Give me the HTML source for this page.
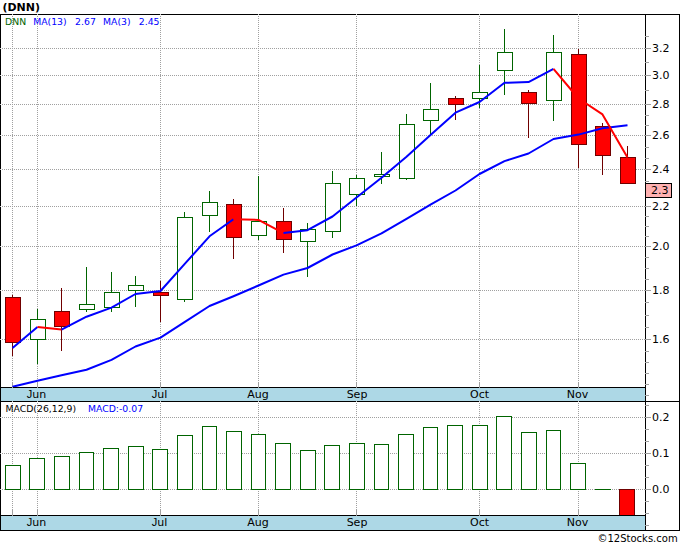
<!DOCTYPE html><html><head><meta charset="utf-8"><title>DNN</title><style>html,body{margin:0;padding:0;background:#fff;}svg{display:block;}text{font-family:"DejaVu Sans","Liberation Sans",sans-serif;}</style></head><body>
<svg width="680" height="546" viewBox="0 0 680 546">
<rect x="0" y="0" width="680" height="546" fill="#fff"/>
<rect x="1" y="388" width="644" height="13" fill="#add8e6"/>
<rect x="1" y="516" width="644" height="14" fill="#add8e6"/>
<g shape-rendering="crispEdges">
<line x1="0" y1="48.5" x2="645" y2="48.5" stroke="#a0a0a0" stroke-dasharray="1 1"/>
<line x1="0" y1="75.5" x2="645" y2="75.5" stroke="#a0a0a0" stroke-dasharray="1 1"/>
<line x1="0" y1="104.5" x2="645" y2="104.5" stroke="#a0a0a0" stroke-dasharray="1 1"/>
<line x1="0" y1="135.5" x2="645" y2="135.5" stroke="#a0a0a0" stroke-dasharray="1 1"/>
<line x1="0" y1="169.5" x2="645" y2="169.5" stroke="#a0a0a0" stroke-dasharray="1 1"/>
<line x1="0" y1="206.5" x2="645" y2="206.5" stroke="#a0a0a0" stroke-dasharray="1 1"/>
<line x1="0" y1="246.5" x2="645" y2="246.5" stroke="#a0a0a0" stroke-dasharray="1 1"/>
<line x1="0" y1="290.5" x2="645" y2="290.5" stroke="#a0a0a0" stroke-dasharray="1 1"/>
<line x1="0" y1="339.5" x2="645" y2="339.5" stroke="#a0a0a0" stroke-dasharray="1 1"/>
<line x1="0" y1="417.5" x2="645" y2="417.5" stroke="#a0a0a0" stroke-dasharray="1 1"/>
<line x1="0" y1="453.5" x2="645" y2="453.5" stroke="#a0a0a0" stroke-dasharray="1 1"/>
<line x1="0" y1="489.5" x2="645" y2="489.5" stroke="#a0a0a0" stroke-dasharray="1 1"/>
<line x1="12.5" y1="14" x2="12.5" y2="382" stroke="#a0a0a0" stroke-dasharray="1 1"/>
<line x1="12.5" y1="382" x2="12.5" y2="388" stroke="#a0a0a0"/>
<line x1="12.5" y1="401" x2="12.5" y2="510" stroke="#a0a0a0" stroke-dasharray="1 1"/>
<line x1="12.5" y1="510" x2="12.5" y2="516" stroke="#a0a0a0"/>
<line x1="37.5" y1="14" x2="37.5" y2="382" stroke="#a0a0a0" stroke-dasharray="1 1"/>
<line x1="37.5" y1="382" x2="37.5" y2="388" stroke="#a0a0a0"/>
<line x1="37.5" y1="401" x2="37.5" y2="510" stroke="#a0a0a0" stroke-dasharray="1 1"/>
<line x1="37.5" y1="510" x2="37.5" y2="516" stroke="#a0a0a0"/>
<line x1="160.5" y1="14" x2="160.5" y2="382" stroke="#a0a0a0" stroke-dasharray="1 1"/>
<line x1="160.5" y1="382" x2="160.5" y2="388" stroke="#a0a0a0"/>
<line x1="160.5" y1="401" x2="160.5" y2="510" stroke="#a0a0a0" stroke-dasharray="1 1"/>
<line x1="160.5" y1="510" x2="160.5" y2="516" stroke="#a0a0a0"/>
<line x1="258.5" y1="14" x2="258.5" y2="382" stroke="#a0a0a0" stroke-dasharray="1 1"/>
<line x1="258.5" y1="382" x2="258.5" y2="388" stroke="#a0a0a0"/>
<line x1="258.5" y1="401" x2="258.5" y2="510" stroke="#a0a0a0" stroke-dasharray="1 1"/>
<line x1="258.5" y1="510" x2="258.5" y2="516" stroke="#a0a0a0"/>
<line x1="356.5" y1="14" x2="356.5" y2="382" stroke="#a0a0a0" stroke-dasharray="1 1"/>
<line x1="356.5" y1="382" x2="356.5" y2="388" stroke="#a0a0a0"/>
<line x1="356.5" y1="401" x2="356.5" y2="510" stroke="#a0a0a0" stroke-dasharray="1 1"/>
<line x1="356.5" y1="510" x2="356.5" y2="516" stroke="#a0a0a0"/>
<line x1="479.5" y1="14" x2="479.5" y2="382" stroke="#a0a0a0" stroke-dasharray="1 1"/>
<line x1="479.5" y1="382" x2="479.5" y2="388" stroke="#a0a0a0"/>
<line x1="479.5" y1="401" x2="479.5" y2="510" stroke="#a0a0a0" stroke-dasharray="1 1"/>
<line x1="479.5" y1="510" x2="479.5" y2="516" stroke="#a0a0a0"/>
<line x1="578.5" y1="14" x2="578.5" y2="382" stroke="#a0a0a0" stroke-dasharray="1 1"/>
<line x1="578.5" y1="382" x2="578.5" y2="388" stroke="#a0a0a0"/>
<line x1="578.5" y1="401" x2="578.5" y2="510" stroke="#a0a0a0" stroke-dasharray="1 1"/>
<line x1="578.5" y1="510" x2="578.5" y2="516" stroke="#a0a0a0"/>
</g>
<g shape-rendering="crispEdges">
<line x1="12.5" y1="295" x2="12.5" y2="297" stroke="#700000"/>
<line x1="12.5" y1="342" x2="12.5" y2="356" stroke="#700000"/>
<rect x="5.5" y="297.5" width="15" height="45" fill="#ff0000" stroke="#700000"/>
<line x1="37.5" y1="309" x2="37.5" y2="319" stroke="#006400"/>
<line x1="37.5" y1="339" x2="37.5" y2="364" stroke="#006400"/>
<rect x="30.5" y="319.5" width="15" height="20" fill="#fff" stroke="#006400"/>
<line x1="61.5" y1="288" x2="61.5" y2="311" stroke="#700000"/>
<line x1="61.5" y1="326" x2="61.5" y2="351" stroke="#700000"/>
<rect x="54.5" y="311.5" width="15" height="15" fill="#ff0000" stroke="#700000"/>
<line x1="86.5" y1="267" x2="86.5" y2="304" stroke="#006400"/>
<line x1="86.5" y1="309" x2="86.5" y2="312" stroke="#006400"/>
<rect x="79.5" y="304.5" width="15" height="5" fill="#fff" stroke="#006400"/>
<line x1="111.5" y1="272" x2="111.5" y2="292" stroke="#006400"/>
<line x1="111.5" y1="307" x2="111.5" y2="312" stroke="#006400"/>
<rect x="104.5" y="292.5" width="15" height="15" fill="#fff" stroke="#006400"/>
<line x1="135.5" y1="276" x2="135.5" y2="285" stroke="#006400"/>
<line x1="135.5" y1="290" x2="135.5" y2="307" stroke="#006400"/>
<rect x="128.5" y="285.5" width="15" height="5" fill="#fff" stroke="#006400"/>
<line x1="160.5" y1="281" x2="160.5" y2="292" stroke="#700000"/>
<line x1="160.5" y1="295" x2="160.5" y2="322" stroke="#700000"/>
<rect x="153.5" y="292.5" width="15" height="3" fill="#ff0000" stroke="#700000"/>
<line x1="184.5" y1="212" x2="184.5" y2="217" stroke="#006400"/>
<line x1="184.5" y1="299" x2="184.5" y2="302" stroke="#006400"/>
<rect x="177.5" y="217.5" width="15" height="82" fill="#fff" stroke="#006400"/>
<line x1="209.5" y1="191" x2="209.5" y2="202" stroke="#006400"/>
<line x1="209.5" y1="215" x2="209.5" y2="232" stroke="#006400"/>
<rect x="202.5" y="202.5" width="15" height="13" fill="#fff" stroke="#006400"/>
<line x1="233.5" y1="199" x2="233.5" y2="204" stroke="#700000"/>
<line x1="233.5" y1="237" x2="233.5" y2="259" stroke="#700000"/>
<rect x="226.5" y="204.5" width="15" height="33" fill="#ff0000" stroke="#700000"/>
<line x1="258.5" y1="176" x2="258.5" y2="221" stroke="#006400"/>
<line x1="258.5" y1="235" x2="258.5" y2="240" stroke="#006400"/>
<rect x="251.5" y="221.5" width="15" height="14" fill="#fff" stroke="#006400"/>
<line x1="283.5" y1="208" x2="283.5" y2="221" stroke="#700000"/>
<line x1="283.5" y1="239" x2="283.5" y2="253" stroke="#700000"/>
<rect x="276.5" y="221.5" width="15" height="18" fill="#ff0000" stroke="#700000"/>
<line x1="307.5" y1="223" x2="307.5" y2="229" stroke="#006400"/>
<line x1="307.5" y1="241" x2="307.5" y2="277" stroke="#006400"/>
<rect x="300.5" y="229.5" width="15" height="12" fill="#fff" stroke="#006400"/>
<line x1="332.5" y1="171" x2="332.5" y2="183" stroke="#006400"/>
<line x1="332.5" y1="231" x2="332.5" y2="238" stroke="#006400"/>
<rect x="325.5" y="183.5" width="15" height="48" fill="#fff" stroke="#006400"/>
<line x1="356.5" y1="175" x2="356.5" y2="178" stroke="#006400"/>
<line x1="356.5" y1="194" x2="356.5" y2="206" stroke="#006400"/>
<rect x="349.5" y="178.5" width="15" height="16" fill="#fff" stroke="#006400"/>
<line x1="381.5" y1="152" x2="381.5" y2="174" stroke="#006400"/>
<line x1="381.5" y1="176" x2="381.5" y2="184" stroke="#006400"/>
<rect x="374.5" y="174.5" width="15" height="2" fill="#fff" stroke="#006400"/>
<line x1="406.5" y1="114" x2="406.5" y2="124" stroke="#006400"/>
<line x1="406.5" y1="178" x2="406.5" y2="180" stroke="#006400"/>
<rect x="399.5" y="124.5" width="15" height="54" fill="#fff" stroke="#006400"/>
<line x1="430.5" y1="83" x2="430.5" y2="109" stroke="#006400"/>
<line x1="430.5" y1="120" x2="430.5" y2="134" stroke="#006400"/>
<rect x="423.5" y="109.5" width="15" height="11" fill="#fff" stroke="#006400"/>
<line x1="455.5" y1="96" x2="455.5" y2="98" stroke="#700000"/>
<line x1="455.5" y1="104" x2="455.5" y2="120" stroke="#700000"/>
<rect x="448.5" y="98.5" width="15" height="6" fill="#ff0000" stroke="#700000"/>
<line x1="479.5" y1="65" x2="479.5" y2="92" stroke="#006400"/>
<line x1="479.5" y1="98" x2="479.5" y2="108" stroke="#006400"/>
<rect x="472.5" y="92.5" width="15" height="6" fill="#fff" stroke="#006400"/>
<line x1="504.5" y1="29" x2="504.5" y2="52" stroke="#006400"/>
<line x1="504.5" y1="70" x2="504.5" y2="95" stroke="#006400"/>
<rect x="497.5" y="52.5" width="15" height="18" fill="#fff" stroke="#006400"/>
<line x1="528.5" y1="90" x2="528.5" y2="92" stroke="#700000"/>
<line x1="528.5" y1="103" x2="528.5" y2="138" stroke="#700000"/>
<rect x="521.5" y="92.5" width="15" height="11" fill="#ff0000" stroke="#700000"/>
<line x1="553.5" y1="35" x2="553.5" y2="52" stroke="#006400"/>
<line x1="553.5" y1="100" x2="553.5" y2="121" stroke="#006400"/>
<rect x="546.5" y="52.5" width="15" height="48" fill="#fff" stroke="#006400"/>
<line x1="578.5" y1="49" x2="578.5" y2="54" stroke="#700000"/>
<line x1="578.5" y1="144" x2="578.5" y2="168" stroke="#700000"/>
<rect x="571.5" y="54.5" width="15" height="90" fill="#ff0000" stroke="#700000"/>
<line x1="602.5" y1="123" x2="602.5" y2="126" stroke="#700000"/>
<line x1="602.5" y1="155" x2="602.5" y2="175" stroke="#700000"/>
<rect x="595.5" y="126.5" width="15" height="29" fill="#ff0000" stroke="#700000"/>
<line x1="627.5" y1="146" x2="627.5" y2="157" stroke="#700000"/>
<rect x="620.5" y="157.5" width="15" height="26" fill="#ff0000" stroke="#700000"/>
<rect x="5.5" y="465.5" width="15" height="24" fill="#fff" stroke="#006400"/>
<rect x="29.5" y="458.5" width="15" height="31" fill="#fff" stroke="#006400"/>
<rect x="54.5" y="456.5" width="15" height="33" fill="#fff" stroke="#006400"/>
<rect x="79.5" y="452.5" width="14" height="37" fill="#fff" stroke="#006400"/>
<rect x="103.5" y="448.5" width="15" height="41" fill="#fff" stroke="#006400"/>
<rect x="128.5" y="446.5" width="15" height="43" fill="#fff" stroke="#006400"/>
<rect x="152.5" y="449.5" width="15" height="40" fill="#fff" stroke="#006400"/>
<rect x="177.5" y="435.5" width="15" height="54" fill="#fff" stroke="#006400"/>
<rect x="202.5" y="426.5" width="14" height="63" fill="#fff" stroke="#006400"/>
<rect x="226.5" y="431.5" width="15" height="58" fill="#fff" stroke="#006400"/>
<rect x="251.5" y="434.5" width="14" height="55" fill="#fff" stroke="#006400"/>
<rect x="275.5" y="443.5" width="15" height="46" fill="#fff" stroke="#006400"/>
<rect x="300.5" y="450.5" width="15" height="39" fill="#fff" stroke="#006400"/>
<rect x="324.5" y="445.5" width="15" height="44" fill="#fff" stroke="#006400"/>
<rect x="349.5" y="443.5" width="15" height="46" fill="#fff" stroke="#006400"/>
<rect x="374.5" y="444.5" width="14" height="45" fill="#fff" stroke="#006400"/>
<rect x="398.5" y="434.5" width="15" height="55" fill="#fff" stroke="#006400"/>
<rect x="423.5" y="427.5" width="14" height="62" fill="#fff" stroke="#006400"/>
<rect x="447.5" y="425.5" width="15" height="64" fill="#fff" stroke="#006400"/>
<rect x="472.5" y="425.5" width="15" height="64" fill="#fff" stroke="#006400"/>
<rect x="496.5" y="416.5" width="15" height="73" fill="#fff" stroke="#006400"/>
<rect x="521.5" y="432.5" width="15" height="57" fill="#fff" stroke="#006400"/>
<rect x="546.5" y="430.5" width="14" height="59" fill="#fff" stroke="#006400"/>
<rect x="570.5" y="463.5" width="15" height="26" fill="#fff" stroke="#006400"/>
<line x1="595" y1="489.5" x2="611" y2="489.5" stroke="#006400"/>
<rect x="619.5" y="489.5" width="15" height="26" fill="#ff0000" stroke="#700000"/>
</g>
<polyline points="12.5,386.8 37.5,380.7 61.5,375.2 86.5,369.7 111.5,359.9 135.5,346.5 160.5,337.6 184.5,322.2 209.5,306 233.5,296.2 258.5,285.5 283.5,274.6 307.5,268 332.5,254.5 356.5,245.4 381.5,233.4 406.5,218.8 430.5,204.7 455.5,190.5 479.5,174 504.5,161.1 528.5,153.5 553.5,139 578.5,134.6 602.5,128.2 627.5,125.3" fill="none" stroke="#0000ff" stroke-width="2.0" stroke-linejoin="round"/>
<polyline points="12.5,348 37.5,327" fill="none" stroke="#0000ff" stroke-width="2.0" stroke-linejoin="round"/>
<polyline points="37.5,327 61.5,329.6" fill="none" stroke="#ff0000" stroke-width="2.0" stroke-linejoin="round"/>
<polyline points="61.5,329.6 86.5,316.7 111.5,307.6 135.5,294 160.5,291 184.5,264.2 209.5,236.3 233.5,219.2" fill="none" stroke="#0000ff" stroke-width="2.0" stroke-linejoin="round"/>
<polyline points="233.5,219.2 258.5,219.9 283.5,233.1" fill="none" stroke="#ff0000" stroke-width="2.0" stroke-linejoin="round"/>
<polyline points="283.5,233.1 307.5,230.2 332.5,216.5 356.5,197.5 381.5,177.7 406.5,156.8 430.5,135.1 455.5,112.7 479.5,102 504.5,82.8 528.5,82.1 553.5,68.9" fill="none" stroke="#0000ff" stroke-width="2.0" stroke-linejoin="round"/>
<polyline points="553.5,68.9 578.5,98.5 602.5,114.4 627.5,157.5" fill="none" stroke="#ff0000" stroke-width="2.0" stroke-linejoin="round"/>
<g shape-rendering="crispEdges" stroke="#000" fill="none">
<rect x="0.5" y="14.5" width="679" height="516"/>
<line x1="645.5" y1="14" x2="645.5" y2="531"/>
<line x1="0" y1="387.5" x2="646" y2="387.5"/>
<line x1="0" y1="401.5" x2="680" y2="401.5"/>
<line x1="0" y1="515.5" x2="646" y2="515.5"/>
</g>
<g fill="#c8c8c8" shape-rendering="crispEdges">
<rect x="0" y="48" width="1" height="1"/>
<rect x="0" y="75" width="1" height="1"/>
<rect x="0" y="104" width="1" height="1"/>
<rect x="0" y="135" width="1" height="1"/>
<rect x="0" y="169" width="1" height="1"/>
<rect x="0" y="206" width="1" height="1"/>
<rect x="0" y="246" width="1" height="1"/>
<rect x="0" y="290" width="1" height="1"/>
<rect x="0" y="339" width="1" height="1"/>
<rect x="0" y="417" width="1" height="1"/>
<rect x="0" y="453" width="1" height="1"/>
<rect x="0" y="489" width="1" height="1"/>
<rect x="12" y="14" width="1" height="1"/>
<rect x="12" y="387" width="1" height="1" fill="#a0a0a0"/>
<rect x="12" y="401" width="1" height="1"/>
<rect x="12" y="515" width="1" height="1" fill="#a0a0a0"/>
<rect x="37" y="14" width="1" height="1"/>
<rect x="37" y="387" width="1" height="1" fill="#a0a0a0"/>
<rect x="37" y="401" width="1" height="1"/>
<rect x="37" y="515" width="1" height="1" fill="#a0a0a0"/>
<rect x="160" y="14" width="1" height="1"/>
<rect x="160" y="387" width="1" height="1" fill="#a0a0a0"/>
<rect x="160" y="401" width="1" height="1"/>
<rect x="160" y="515" width="1" height="1" fill="#a0a0a0"/>
<rect x="258" y="14" width="1" height="1"/>
<rect x="258" y="387" width="1" height="1" fill="#a0a0a0"/>
<rect x="258" y="401" width="1" height="1"/>
<rect x="258" y="515" width="1" height="1" fill="#a0a0a0"/>
<rect x="356" y="14" width="1" height="1"/>
<rect x="356" y="387" width="1" height="1" fill="#a0a0a0"/>
<rect x="356" y="401" width="1" height="1"/>
<rect x="356" y="515" width="1" height="1" fill="#a0a0a0"/>
<rect x="479" y="14" width="1" height="1"/>
<rect x="479" y="387" width="1" height="1" fill="#a0a0a0"/>
<rect x="479" y="401" width="1" height="1"/>
<rect x="479" y="515" width="1" height="1" fill="#a0a0a0"/>
<rect x="578" y="14" width="1" height="1"/>
<rect x="578" y="387" width="1" height="1" fill="#a0a0a0"/>
<rect x="578" y="401" width="1" height="1"/>
<rect x="578" y="515" width="1" height="1" fill="#a0a0a0"/>
</g>
<g stroke="#a0a0a0" shape-rendering="crispEdges">
<line x1="645" y1="48.5" x2="651" y2="48.5"/>
<line x1="645" y1="75.5" x2="651" y2="75.5"/>
<line x1="645" y1="104.5" x2="651" y2="104.5"/>
<line x1="645" y1="135.5" x2="651" y2="135.5"/>
<line x1="645" y1="169.5" x2="651" y2="169.5"/>
<line x1="645" y1="206.5" x2="651" y2="206.5"/>
<line x1="645" y1="246.5" x2="651" y2="246.5"/>
<line x1="645" y1="290.5" x2="651" y2="290.5"/>
<line x1="645" y1="339.5" x2="651" y2="339.5"/>
<line x1="645" y1="417.5" x2="651" y2="417.5"/>
<line x1="645" y1="453.5" x2="651" y2="453.5"/>
<line x1="645" y1="489.5" x2="651" y2="489.5"/>
<line x1="645" y1="36.5" x2="649" y2="36.5"/>
<line x1="645" y1="62.5" x2="649" y2="62.5"/>
<line x1="645" y1="90.5" x2="649" y2="90.5"/>
<line x1="645" y1="115.5" x2="649" y2="115.5"/>
<line x1="645" y1="125.5" x2="649" y2="125.5"/>
<line x1="645" y1="147.5" x2="649" y2="147.5"/>
<line x1="645" y1="158.5" x2="649" y2="158.5"/>
<line x1="645" y1="181.5" x2="649" y2="181.5"/>
<line x1="645" y1="193.5" x2="649" y2="193.5"/>
<line x1="645" y1="216.5" x2="649" y2="216.5"/>
<line x1="645" y1="226.5" x2="649" y2="226.5"/>
<line x1="645" y1="236.5" x2="649" y2="236.5"/>
<line x1="645" y1="257.5" x2="649" y2="257.5"/>
<line x1="645" y1="268.5" x2="649" y2="268.5"/>
<line x1="645" y1="279.5" x2="649" y2="279.5"/>
<line x1="645" y1="302.5" x2="649" y2="302.5"/>
<line x1="645" y1="315.5" x2="649" y2="315.5"/>
<line x1="645" y1="327.5" x2="649" y2="327.5"/>
<line x1="645" y1="351.5" x2="649" y2="351.5"/>
<line x1="645" y1="362.5" x2="649" y2="362.5"/>
<line x1="645" y1="373.5" x2="649" y2="373.5"/>
<line x1="645" y1="384.5" x2="649" y2="384.5"/>
<line x1="645" y1="395.5" x2="649" y2="395.5"/>
<line x1="645" y1="405.5" x2="649" y2="405.5"/>
<line x1="645" y1="429.5" x2="649" y2="429.5"/>
<line x1="645" y1="441.5" x2="649" y2="441.5"/>
<line x1="645" y1="465.5" x2="649" y2="465.5"/>
<line x1="645" y1="477.5" x2="649" y2="477.5"/>
<line x1="645" y1="501.5" x2="649" y2="501.5"/>
<line x1="645" y1="513.5" x2="649" y2="513.5"/>
<line x1="645" y1="525.5" x2="649" y2="525.5"/>
</g>
<rect x="645.5" y="183.5" width="26" height="14" fill="#ffb1b1" stroke="#000" shape-rendering="crispEdges"/>
<g font-size="11" fill="#000">
<text x="652" y="52">3.2</text>
<text x="652" y="79">3.0</text>
<text x="652" y="108">2.8</text>
<text x="652" y="139">2.6</text>
<text x="652" y="173">2.4</text>
<text x="652" y="210">2.2</text>
<text x="652" y="250">2.0</text>
<text x="652" y="294">1.8</text>
<text x="652" y="343">1.6</text>
<text x="652" y="421">0.2</text>
<text x="652" y="457">0.1</text>
<text x="652" y="493">0.0</text>
<text x="651" y="194">2.3</text>
<defs><clipPath id="cb1"><rect x="0" y="388" width="645" height="13"/></clipPath><clipPath id="cb2"><rect x="0" y="516" width="645" height="14"/></clipPath></defs>
<g clip-path="url(#cb1)">
<text x="36.5" y="398" text-anchor="middle"><tspan style="font-family:&quot;Liberation Sans&quot;,sans-serif">J</tspan>un</text>
<text x="159.5" y="398" text-anchor="middle"><tspan style="font-family:&quot;Liberation Sans&quot;,sans-serif">J</tspan>ul</text>
<text x="258" y="398" text-anchor="middle">Aug</text>
<text x="357" y="398" text-anchor="middle">Sep</text>
<text x="479.5" y="398" text-anchor="middle">Oct</text>
<text x="577.5" y="398" text-anchor="middle">Nov</text>
</g><g clip-path="url(#cb2)">
<text x="36.5" y="526" text-anchor="middle"><tspan style="font-family:&quot;Liberation Sans&quot;,sans-serif">J</tspan>un</text>
<text x="159.5" y="526" text-anchor="middle"><tspan style="font-family:&quot;Liberation Sans&quot;,sans-serif">J</tspan>ul</text>
<text x="258" y="526" text-anchor="middle">Aug</text>
<text x="357" y="526" text-anchor="middle">Sep</text>
<text x="479.5" y="526" text-anchor="middle">Oct</text>
<text x="577.5" y="526" text-anchor="middle">Nov</text>
</g>
</g>
<text x="2.5" y="11" font-size="11" font-weight="bold" fill="#000" textLength="37.5" lengthAdjust="spacing">(DNN)</text>
<g font-size="9.3">
<text x="5.1" y="24.8" fill="#006400">DNN</text>
<text x="33.2" y="24.8" fill="#0000ff">MA(13)</text>
<text x="75.1" y="24.8" fill="#0000ff">2.67</text>
<text x="103.1" y="24.8" fill="#0000ff">MA(3)</text>
<text x="138.8" y="24.8" fill="#0000ff">2.45</text>
<text x="5.5" y="411.8" fill="#000">MACD(26,12,9)</text>
<text x="88" y="411.8" fill="#0000ff">MACD:-0.07</text>
</g>
<text x="597.5" y="541.8" font-size="10" fill="#000">©12Stocks.com</text>
</svg></body></html>
